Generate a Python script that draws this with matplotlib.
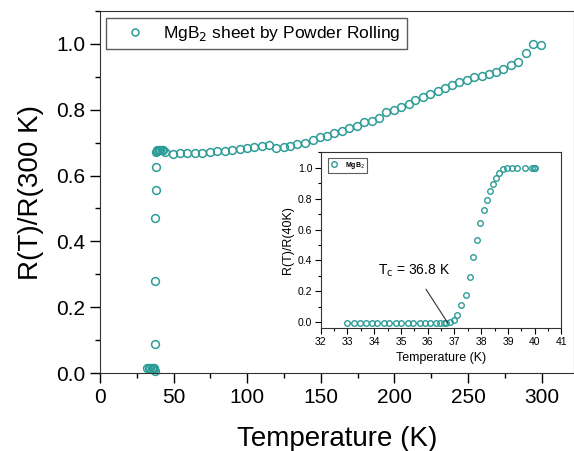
import numpy as np
import matplotlib
matplotlib.use('Agg')
from matplotlib import pyplot as plt
from matplotlib.ticker import MultipleLocator

plt.rcParams['font.family'] = ['Liberation Sans', 'DejaVu Sans']

# main curve, R(T)/R(300 K)
T_main = [32, 33, 34, 35, 36, 36.5, 37, 37.3, 37.5, 37.6, 37.7, 37.8, 37.9, 38.0,
          38.4, 39, 40, 41, 42, 43, 44.5,
          49.4, 54.4, 59.4, 64.6, 69.6, 74.8, 79.8, 84.6, 89.6, 94.8, 99.8,
          104.8, 110, 114.5, 119.7, 124.7, 129, 134, 139.5, 144.4, 149.7,
          154.2, 159.2, 164.4, 169.4, 174.6, 179.6, 184.8, 189.3, 194.6,
          199.5, 204.5, 209.7, 214.3, 219.5, 224.5, 229.5, 234.2, 239.2,
          244.2, 249, 254, 259.2, 264.2, 268.7, 273.9, 278.9, 284.1, 289.3,
          294.3, 299.8]
R_main = [0.015, 0.015, 0.016, 0.016, 0.015, 0.014, 0.012, 0.007, 0.087, 0.28, 0.47, 0.555, 0.625, 0.672,
          0.676, 0.678, 0.678, 0.679, 0.678, 0.677, 0.672,
          0.666, 0.669, 0.669, 0.669, 0.669, 0.671, 0.674, 0.676, 0.678, 0.681, 0.684,
          0.686, 0.690, 0.693, 0.683, 0.686, 0.689, 0.696, 0.700, 0.708, 0.716,
          0.721, 0.729, 0.736, 0.744, 0.752, 0.762, 0.765, 0.774, 0.792,
          0.799, 0.809, 0.817, 0.829, 0.839, 0.848, 0.858, 0.866, 0.875,
          0.883, 0.891, 0.898, 0.903, 0.908, 0.915, 0.923, 0.935, 0.946, 0.972,
          1.001, 0.997]

# inset, R(T)/R(40K)
T_ins = [33.0, 33.25, 33.47, 33.7, 33.9, 34.1, 34.35, 34.55, 34.8, 35.0, 35.25,
         35.45, 35.7, 35.9, 36.1, 36.3, 36.45, 36.6, 36.7, 36.85, 37.0, 37.11,
         37.26, 37.44, 37.57, 37.7, 37.83, 37.94, 38.1, 38.21, 38.33, 38.45,
         38.56, 38.68, 38.8, 38.98, 39.14, 39.33, 39.63, 39.91, 39.97, 40.02]
R_ins = [-0.007] * 19 + [0.0, 0.015, 0.048, 0.108, 0.175, 0.29, 0.42, 0.535,
                         0.64, 0.73, 0.79, 0.847, 0.894, 0.935, 0.968, 0.99,
                         1.0, 1.0, 1.0, 1.0, 1.0, 1.0, 1.0]

teal = '#2e9c96'

fig = plt.figure(figsize=(5.74, 4.51), dpi=100)
ax = fig.add_axes([0.1742, 0.1729, 0.8258, 0.8027])
ax.plot(T_main, R_main, 'o', mfc='none', mec=teal, mew=1.1, ms=5.6,
        label='MgB$_2$ sheet by Powder Rolling', clip_on=False)
ax.set_xlim(0, 322)
ax.set_ylim(0, 1.1)
ax.xaxis.set_major_locator(MultipleLocator(50))
ax.xaxis.set_minor_locator(MultipleLocator(25))
ax.yaxis.set_major_locator(MultipleLocator(0.2))
ax.yaxis.set_minor_locator(MultipleLocator(0.1))
ax.set_yticks([0, 0.2, 0.4, 0.6, 0.8, 1.0])
ax.set_yticklabels(['0.0', '0.2', '0.4', '0.6', '0.8', '1.0'])
ax.tick_params(which='major', direction='out', length=7, width=1, labelsize=15)
ax.tick_params(which='minor', direction='out', length=3.5, width=1)
ax.set_xlabel('Temperature (K)', fontsize=20, labelpad=14)
ax.set_ylabel('R(T)/R(300 K)', fontsize=20, labelpad=9)
for s in ax.spines.values():
    s.set_color('#333333')
leg = ax.legend(loc='upper left', bbox_to_anchor=(0.0127, 0.98), fontsize=12.5,
                frameon=True, fancybox=False, edgecolor='#333333',
                borderaxespad=0, handlelength=2.6, handletextpad=0.35,
                borderpad=0.35, markerscale=0.9)
leg.get_frame().set_linewidth(1.0)

# inset
ins = fig.add_axes([0.5587, 0.272, 0.4195, 0.390])
ins.plot(T_ins, R_ins, 'o', mfc='none', mec=teal, mew=1.0, ms=4, label='MgB$_2$')
ins.set_xlim(32, 41)
ins.set_ylim(-0.04, 1.1)
ins.xaxis.set_major_locator(MultipleLocator(1))
ins.xaxis.set_minor_locator(MultipleLocator(0.5))
ins.set_yticks([0, 0.2, 0.4, 0.6, 0.8, 1.0])
ins.set_yticklabels(['0.0', '0.2', '0.4', '0.6', '0.8', '1.0'])
ins.yaxis.set_minor_locator(MultipleLocator(0.1))
ins.tick_params(which='major', direction='out', length=4, width=0.8, labelsize=7.5, pad=2)
ins.tick_params(which='minor', direction='out', length=2, width=0.8)
ins.set_xlabel('Temperature (K)', fontsize=9, labelpad=4)
ins.set_ylabel('R(T)/R(40K)', fontsize=9, labelpad=3)
for s in ins.spines.values():
    s.set_color('#333333')
ileg = ins.legend(loc='upper left', bbox_to_anchor=(0.03, 0.97),
                  frameon=True, fancybox=False, edgecolor='#333333',
                  borderaxespad=0, handlelength=1.2, handletextpad=1.0,
                  borderpad=0.3, prop={'size': 5, 'weight': 'bold'})
ileg.get_frame().set_linewidth(0.8)
ins.annotate(r'T$_\mathrm{c}$ = 36.8 K', xy=(36.75, -0.005), xytext=(35.5, 0.33),
             fontsize=10, ha='center', va='center',
             arrowprops=dict(arrowstyle='-', color='#333333', lw=0.8,
                             shrinkA=6, shrinkB=0))

fig.savefig('out.png', dpi=100)
